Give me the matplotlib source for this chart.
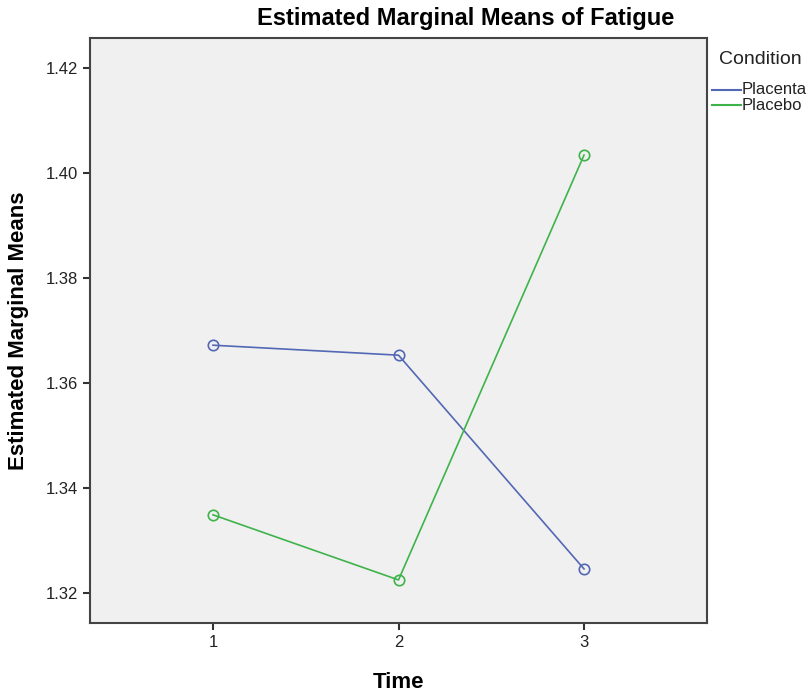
import matplotlib
matplotlib.use("Agg")
from matplotlib import pyplot as plt
from matplotlib.lines import Line2D

# Datos
time = [1, 2, 3]
placenta = [1.3672, 1.3653, 1.3246]
placebo = [1.3349, 1.3225, 1.4034]
series_names = ["Placenta", "Placebo"]
yticks = [1.32, 1.34, 1.36, 1.38, 1.40, 1.42]

colors = ["#5368b4", "#3fb34b"]

plt.rcParams["font.family"] = ["Liberation Sans", "DejaVu Sans"]

fig = plt.figure(figsize=(8.09, 6.94), dpi=100)
ax = fig.add_axes([90 / 809, 1 - 623 / 694, (707 - 90) / 809, (623 - 38) / 694])
ax.set_facecolor("#f0f0f0")

for vals, c in zip([placenta, placebo], colors):
    ax.plot(time, vals, "-", color=c, linewidth=1.2,
            marker="o", markersize=7.5, markerfacecolor="none",
            markeredgecolor=c, markeredgewidth=1.2)

ax.set_xlim(0.337, 3.663)
ax.set_ylim(1.3143, 1.4257)
ax.set_xticks(time)
ax.set_yticks(yticks)
ax.set_yticklabels([f"{v:.2f}" for v in yticks])
ax.tick_params(direction="out", length=5, width=1.5, color="#333333",
               labelsize=12, labelcolor="#222222")
for s in ax.spines.values():
    s.set_color("#444444")
    s.set_linewidth(1.5)

# Título (desplazado a la derecha como en el original)
fig.text(466 / 809, 1 - 19 / 694, "Estimated Marginal Means of Fatigue",
         fontsize=17, fontweight="bold", ha="center", va="center")
ax.set_xlabel("Time", fontsize=16, fontweight="bold", labelpad=16)
ax.set_ylabel("Estimated Marginal Means", fontsize=16, fontweight="bold", labelpad=12)

# Leyenda a la derecha
fig.text(719 / 809, 1 - 59 / 694, "Condition", fontsize=14, va="center",
         ha="left", color="#222222")
for i, (name, c) in enumerate(zip(series_names, colors)):
    yy = 1 - (90 + i * 15) / 694
    fig.add_artist(Line2D([712 / 809, 741 / 809], [yy, yy], color=c,
                          linewidth=1.5, transform=fig.transFigure))
    fig.text(742 / 809, yy, name, fontsize=12, va="center", ha="left",
             color="#222222")

fig.savefig("out.png", dpi=100)
